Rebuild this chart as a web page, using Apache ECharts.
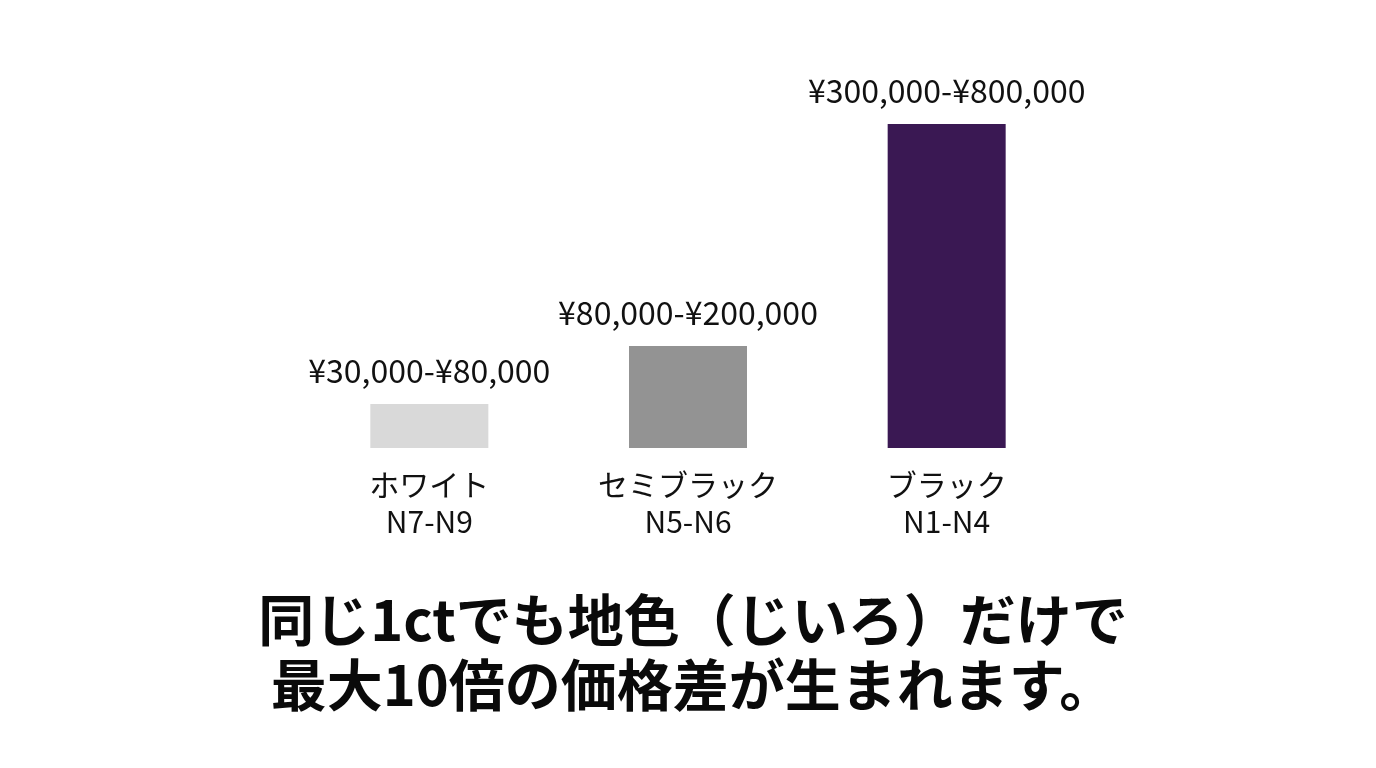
<!DOCTYPE html>
<html>
<head>
<meta charset="utf-8">
<script src="https://cdn.jsdelivr.net/npm/echarts@6/dist/echarts.min.js"></script>
<style>
html,body{margin:0;padding:0;background:#fff;}
#c{width:1376px;height:768px;}
</style>
</head>
<body>
<div id="c"></div>
<script>
// Data
const categories = ['ホワイト\nN7-N9', 'セミブラック\nN5-N6', 'ブラック\nN1-N4'];
const priceLabels = ['¥30,000-¥80,000', '¥80,000-¥200,000', '¥300,000-¥800,000'];
// relative bar heights as drawn (index, black = max)
const barValues = [44, 102, 324];
const barColors = ['#d9d9d9', '#939393', '#3a1853'];
const titleLines = ['同じ1ctでも地色（じいろ）だけで', '最大10倍の価格差が生まれます。'];

const font = '"Noto Sans CJK JP", "Noto Sans", sans-serif';
const chart = echarts.init(document.getElementById('c'));
chart.setOption({
  backgroundColor: '#ffffff',
  animation: false,
  title: {
    text: titleLines.join('\n'),
    left: 688,
    textAlign: 'center',
    top: 582,
    textStyle: {
      fontFamily: font,
      fontSize: 56,
      fontWeight: 'bold',
      lineHeight: 65,
      color: '#0a0a0a'
    }
  },
  grid: { left: 300, right: 300, top: 124, bottom: 320 },
  xAxis: {
    type: 'category',
    data: categories,
    axisLine: { show: false },
    axisTick: { show: false },
    axisLabel: {
      margin: 18,
      fontFamily: font,
      fontSize: 30,
      lineHeight: 37,
      color: '#111111'
    }
  },
  yAxis: {
    type: 'value',
    min: 0,
    max: 324,
    show: false,
    splitLine: { show: false }
  },
  series: [{
    type: 'bar',
    barWidth: 118,
    data: barValues.map((v, i) => ({ value: v, itemStyle: { color: barColors[i] } })),
    label: {
      show: true,
      position: 'top',
      distance: 18,
      formatter: p => priceLabels[p.dataIndex],
      fontFamily: font,
      fontSize: 32,
      lineHeight: 30,
      color: '#111111'
    }
  }]
});
</script>
</body>
</html>
